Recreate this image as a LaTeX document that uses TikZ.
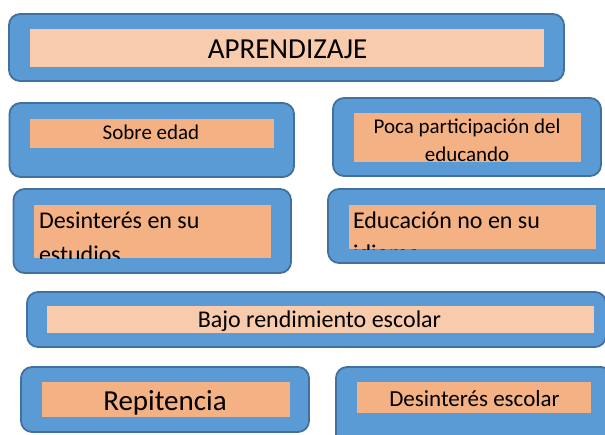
\documentclass[tikz,border=0pt]{standalone}
\usepackage{fontspec}
\setmainfont{Carlito}
\definecolor{boxblue}{HTML}{5B9BD5}
\definecolor{boxedge}{HTML}{41719C}
\definecolor{peachlight}{HTML}{F8CBAD}
\definecolor{peach}{HTML}{F4B183}
\tikzset{
  outerbox/.style={draw=boxedge, fill=boxblue, line width=1.8pt, rounded corners=11pt, inner sep=0pt, outer sep=0pt},
  innerlight/.style={fill=peachlight, inner sep=0pt, outer sep=0pt},
  innerdark/.style={fill=peach, inner sep=0pt, outer sep=0pt},
  lbl/.style={inner sep=0pt, outer sep=0pt, anchor=base, text=black},
  lblw/.style={inner sep=0pt, outer sep=0pt, anchor=base west, text=black},
}
\newcommand{\fs}[1]{\fontsize{#1}{#1}\selectfont}
\begin{document}
\begin{tikzpicture}[x=1pt,y=-1pt]
\clip (0,0) rectangle (605,434);
\fill[white] (0,0) rectangle (605,434);
% A
\node[outerbox, minimum width=555pt, minimum height=67pt] (oA) at (286.5,47.5) {};
\node[innerlight, minimum width=514pt, minimum height=38pt] (iA) at (287,48) {};
\node[lbl] (tA) at (287.5,58) {\fs{29}APRENDIZAJE};
% B
\node[outerbox, minimum width=284.5pt, minimum height=74pt] (oB) at (151.75,140) {};
\node[innerdark, minimum width=244pt, minimum height=29pt] (iB) at (152,133.5) {};
\node[lbl] (tB) at (151,139) {\fs{21}Sobre edad};
% C
\node[outerbox, minimum width=268pt, minimum height=78pt] (oC) at (467,137) {};
\node[innerdark, minimum width=227pt, minimum height=49pt] (iC) at (467.5,137.5) {};
\node[lbl] (tC1) at (467,133) {\fs{21}Poca participación del};
\node[lbl] (tC2) at (467,161) {\fs{21}educando};
% D
\node[outerbox, minimum width=277.5pt, minimum height=84pt] (oD) at (152.25,231) {};
\node[innerdark, minimum width=237pt, minimum height=53pt] (iD) at (152.5,231.5) {};
\begin{scope}
\clip (iD.south west) rectangle (iD.north east);
\node[lblw] (tD1) at (39,228) {\fs{24}Desinterés en su};
\node[lblw] (tD2) at (39,262) {\fs{24}estudios};
\end{scope}
% E
\node[outerbox, minimum width=287pt, minimum height=74pt] (oE) at (471.5,226) {};
\node[innerdark, minimum width=247pt, minimum height=44pt] (iE) at (472.5,227) {};
\begin{scope}
\clip (iE.south west) rectangle (iE.north east);
\node[lblw] (tE1) at (353,228) {\fs{24}Educación no en su};
\node[lblw] (tE2) at (353,261.5) {\fs{24}idioma};
\end{scope}
% F
\node[outerbox, minimum width=579pt, minimum height=55pt] (oF) at (316.5,319.5) {};
\node[innerlight, minimum width=547pt, minimum height=27pt] (iF) at (320.5,319.5) {};
\node[lbl] (tF) at (319.5,327) {\fs{24}Bajo rendimiento escolar};
% G
\node[outerbox, minimum width=288pt, minimum height=65pt] (oG) at (165,399.5) {};
\node[innerdark, minimum width=248pt, minimum height=35pt] (iG) at (166,399.5) {};
\node[lbl] (tG) at (165,410.5) {\fs{29}Repitencia};
% H
\node[outerbox, minimum width=276pt, minimum height=78pt] (oH) at (474,406) {};
\node[innerdark, minimum width=234pt, minimum height=31pt] (iH) at (474,397.5) {};
\node[lbl] (tH) at (474.5,406) {\fs{23}Desinterés escolar};
\end{tikzpicture}
\end{document}
